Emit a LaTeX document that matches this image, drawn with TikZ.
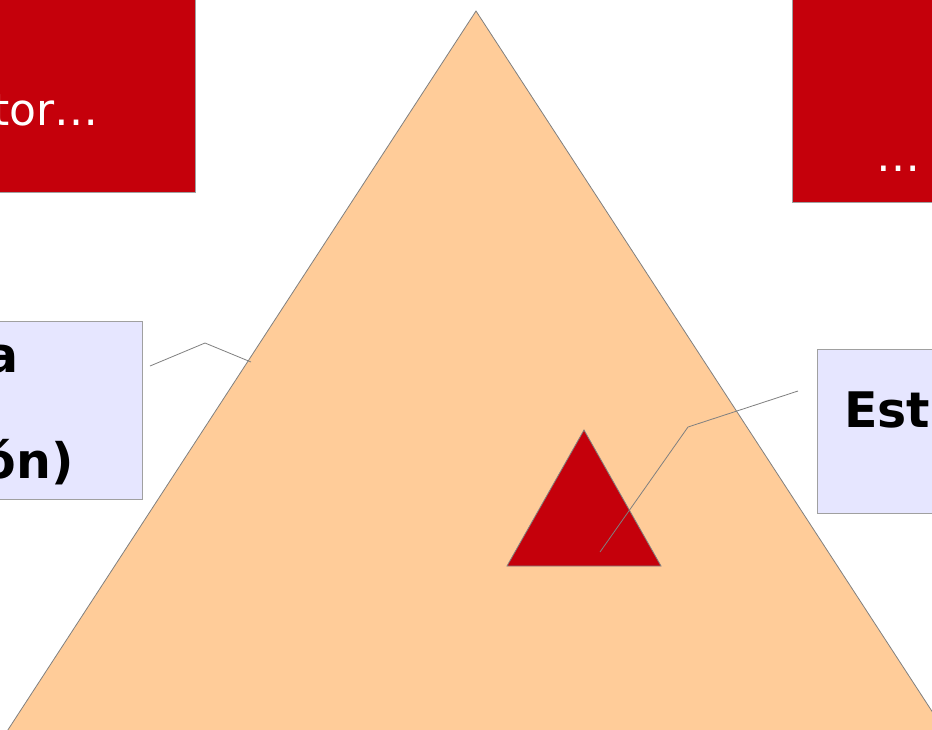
\documentclass[tikz,border=0pt]{standalone}
\usepackage{fontspec}
\setmainfont{DejaVu Sans}
\definecolor{boxred}{HTML}{C5000B}
\definecolor{peach}{HTML}{FFCC99}
\definecolor{lilac}{HTML}{E6E6FF}
\definecolor{edgegray}{HTML}{808080}
\definecolor{boxedge}{HTML}{A0A0A0}
\tikzset{
  redbox/.style={draw=boxedge, fill=boxred, line width=1pt},
  bluebox/.style={draw=boxedge, fill=lilac, line width=1pt},
  redtxt/.style={text=white, font=\fontsize{44}{51}\selectfont, inner sep=0pt},
  bluetxt/.style={text=black, font=\bfseries\fontsize{49}{57}\selectfont, inner sep=0pt},
  callout/.style={draw=edgegray, line width=0.8pt},
  tri/.style={draw=edgegray, line width=0.8pt, line join=miter}
}
\begin{document}
\begin{tikzpicture}[x=1pt, y=-1pt]
\useasboundingbox (0,0) rectangle (932,729);
\clip (0,0) rectangle (932,729);
\fill[white] (0,0) rectangle (932,729);
% big triangle
\coordinate (apex) at (476,11);
\coordinate (bl) at (-41,805);
\coordinate (br) at (993,805);
\filldraw[tri, fill=peach] (apex) -- (bl) -- (br) -- cycle;
% small red triangle
\coordinate (sa) at (584,430);
\coordinate (sl) at (507,566);
\coordinate (sr) at (661,566);
\filldraw[tri, fill=boxred] (sa) -- (sl) -- (sr) -- cycle;
% red boxes
\node[redbox, minimum width=400pt, minimum height=300pt, anchor=south east] (redL) at (196,193) {};
\node[redtxt, anchor=base east] (redLtxt) at (99,125) {tor…};
\node[redbox, minimum width=400pt, minimum height=300pt, anchor=south west] (redR) at (792,203) {};
\node[redtxt, anchor=base west] (redRtxt) at (876,171) {…};
% blue boxes
\node[bluebox, minimum width=300pt, minimum height=178pt, anchor=north east] (blueL) at (143,321) {};
\node[bluetxt, anchor=base east] (blueLa) at (19,372) {a};
\node[bluetxt, anchor=base east] (blueLb) at (74,478) {ón)};
\node[bluebox, minimum width=300pt, minimum height=164pt, anchor=north west] (blueR) at (817,349) {};
\node[bluetxt, anchor=base west] (blueRtxt) at (844,427) {Estr};
% callouts
\coordinate (cLs) at (150,366);
\coordinate (cLm) at (205,343);
\coordinate (cLe) at (251,362);
\draw[callout] (cLs) -- (cLm) -- (cLe);
\coordinate (cRs) at (798,391);
\coordinate (cRm) at (688,427);
\coordinate (cRe) at (600,552);
\draw[callout] (cRs) -- (cRm) -- (cRe);
\end{tikzpicture}
\end{document}
